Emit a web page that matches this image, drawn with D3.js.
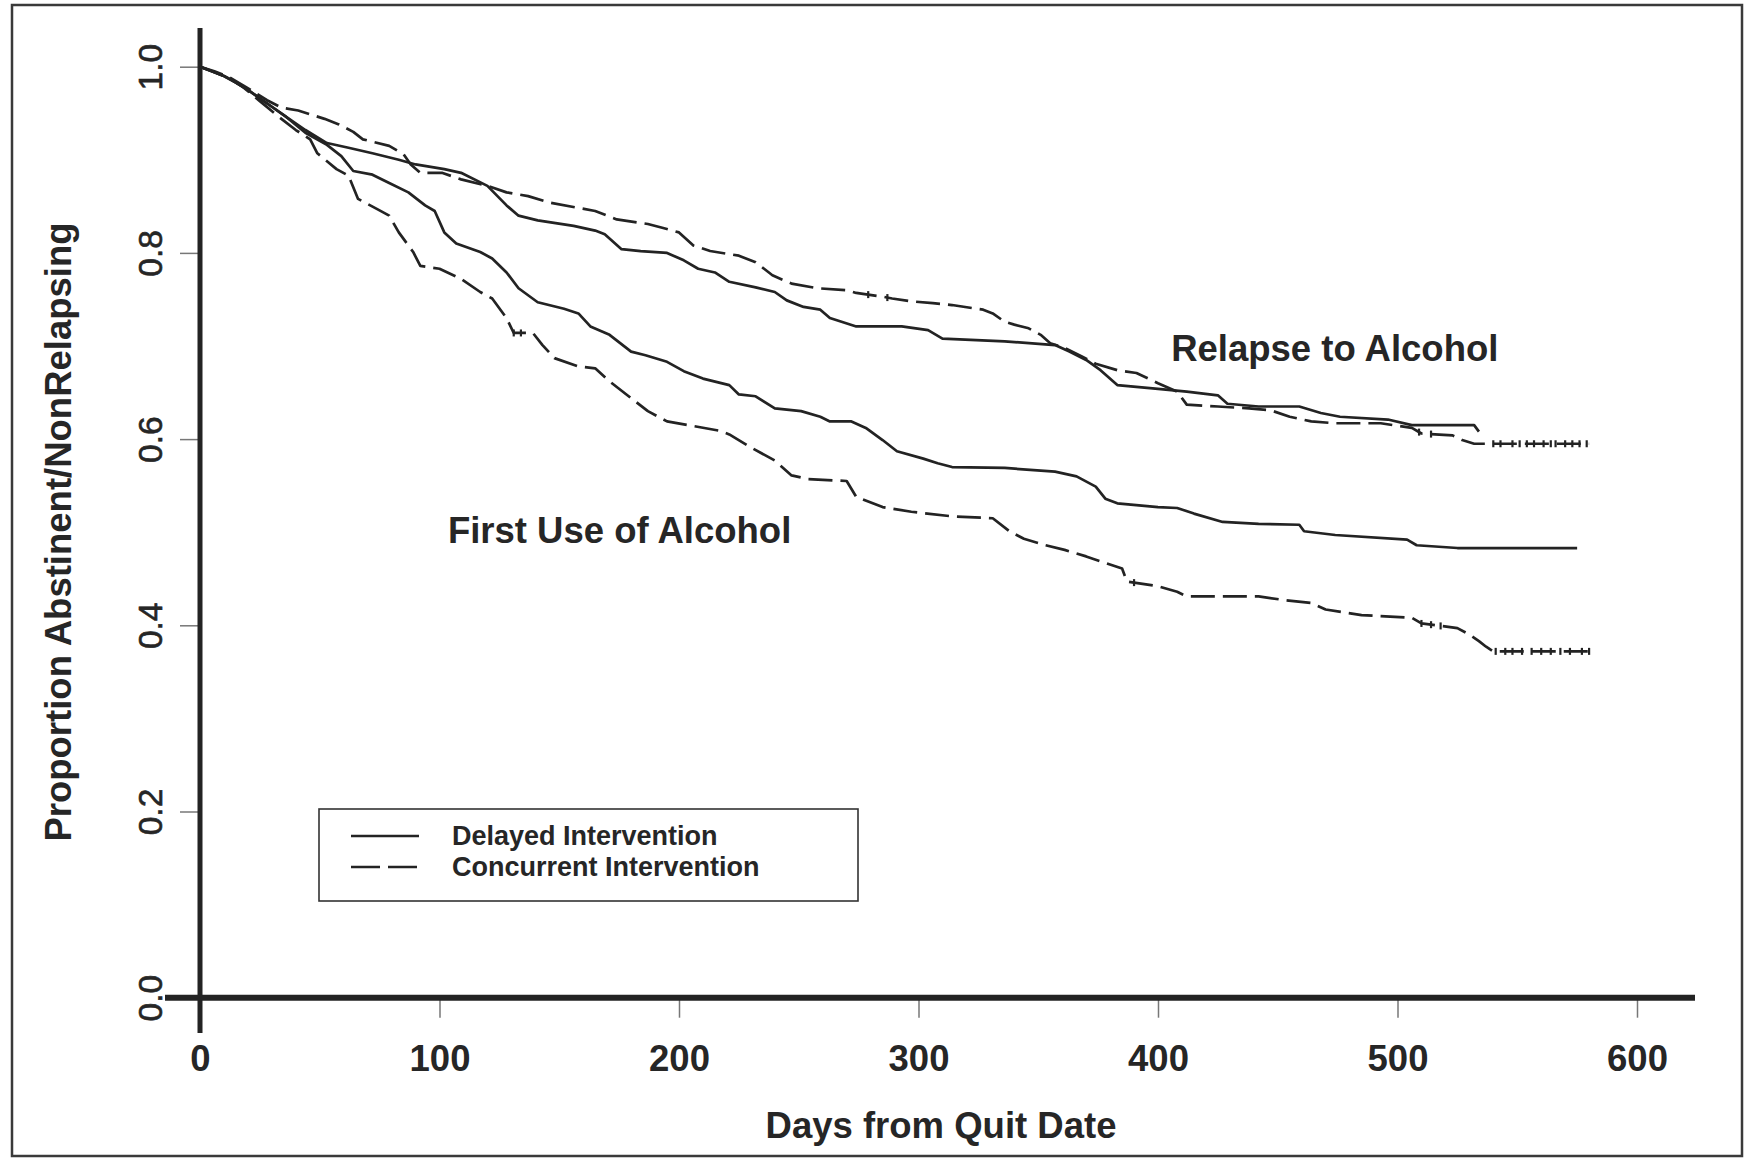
<!DOCTYPE html>
<html>
<head>
<meta charset="utf-8">
<script src="https://cdn.jsdelivr.net/npm/d3@7"></script>
<style>
  html, body { margin: 0; padding: 0; background: #fff; }
  svg { display: block; }
  text { font-family: "Liberation Sans", Arial, Helvetica, sans-serif; fill: #262626; }
</style>
</head>
<body>
<svg id="chart" width="1744" height="1159"></svg>
<script>
// ---------------- DATA ----------------
const xTicks = [0, 100, 200, 300, 400, 500, 600];
const yTicks = [0.0, 0.2, 0.4, 0.6, 0.8, 1.0];

// Relapse to Alcohol — Delayed Intervention (solid)
const relapseDelayedDays = [0, 5, 10, 15, 20, 25, 30, 36, 44, 53, 62, 72, 83, 90, 102, 109, 120, 128, 133, 141, 156, 165, 169, 176, 184, 195, 202, 208, 215, 221, 232, 240, 245, 252, 259, 263, 274, 293, 304, 310, 336, 357, 363, 370, 376, 383, 400, 412, 425, 429, 442, 459, 468, 476, 496, 506, 532, 534];
const relapseDelayedVals = [1.0, 0.995, 0.99, 0.983, 0.975, 0.966, 0.957, 0.946, 0.932, 0.918, 0.913, 0.907, 0.900, 0.895, 0.890, 0.886, 0.872, 0.851, 0.840, 0.835, 0.829, 0.824, 0.820, 0.804, 0.802, 0.800, 0.792, 0.783, 0.779, 0.769, 0.763, 0.758, 0.749, 0.742, 0.739, 0.730, 0.721, 0.721, 0.717, 0.708, 0.705, 0.701, 0.694, 0.685, 0.674, 0.658, 0.654, 0.651, 0.647, 0.638, 0.635, 0.635, 0.628, 0.624, 0.621, 0.615, 0.615, 0.608];

// Relapse to Alcohol — Concurrent Intervention (dashed)
const relapseConcDays = [0, 6, 12, 18, 23, 28, 34, 41, 47, 52, 58, 64, 68, 79, 85, 88, 92, 101, 109, 120, 128, 137, 146, 165, 174, 187, 193, 200, 206, 213, 225, 232, 239, 247, 258, 270, 274, 285, 289, 297, 306, 314, 327, 331, 336, 340, 346, 351, 355, 361, 368, 374, 383, 391, 400, 408, 412, 425, 438, 447, 455, 464, 474, 493, 506, 510, 523, 527, 532, 580];
const relapseConcVals = [1.0, 0.995, 0.989, 0.98, 0.972, 0.964, 0.956, 0.953, 0.948, 0.944, 0.938, 0.930, 0.922, 0.915, 0.906, 0.895, 0.886, 0.886, 0.879, 0.872, 0.865, 0.861, 0.854, 0.845, 0.836, 0.831, 0.827, 0.822, 0.808, 0.802, 0.797, 0.790, 0.776, 0.767, 0.762, 0.760, 0.757, 0.753, 0.751, 0.748, 0.746, 0.744, 0.739, 0.735, 0.726, 0.723, 0.719, 0.712, 0.703, 0.698, 0.689, 0.681, 0.674, 0.671, 0.660, 0.651, 0.637, 0.635, 0.633, 0.631, 0.624, 0.619, 0.617, 0.617, 0.612, 0.606, 0.604, 0.599, 0.595, 0.595];
const relapseConcCensor = [279, 287, 509, 514, 540, 543, 548, 551, 554, 557, 561, 564, 566, 570, 573, 576, 579];

// First Use of Alcohol — Delayed Intervention (solid)
const firstUseDelayedDays = [0, 5, 10, 15, 20, 25, 30, 36, 44, 53, 59, 64, 72, 79, 87, 94, 98, 102, 107, 117, 122, 128, 133, 141, 152, 158, 163, 171, 180, 186, 195, 202, 210, 221, 225, 232, 240, 251, 259, 263, 272, 278, 285, 291, 302, 308, 314, 336, 357, 366, 374, 378, 383, 400, 408, 415, 427, 442, 459, 461, 474, 504, 508, 525, 575];
const firstUseDelayedVals = [1.0, 0.995, 0.99, 0.983, 0.975, 0.966, 0.957, 0.946, 0.929, 0.916, 0.904, 0.888, 0.884, 0.875, 0.865, 0.851, 0.845, 0.822, 0.810, 0.801, 0.794, 0.779, 0.762, 0.747, 0.740, 0.735, 0.721, 0.712, 0.694, 0.690, 0.683, 0.673, 0.665, 0.658, 0.648, 0.646, 0.633, 0.630, 0.624, 0.619, 0.619, 0.612, 0.599, 0.587, 0.579, 0.574, 0.570, 0.569, 0.565, 0.560, 0.549, 0.536, 0.531, 0.527, 0.526, 0.520, 0.511, 0.509, 0.508, 0.501, 0.497, 0.492, 0.486, 0.483, 0.483];

// First Use of Alcohol — Concurrent Intervention (dashed)
const firstUseConcDays = [0, 6, 12, 18, 25, 32, 40, 46, 49, 57, 62, 66, 74, 79, 83, 89, 92, 100, 109, 117, 122, 128, 131, 139, 143, 148, 158, 165, 171, 180, 187, 195, 206, 217, 221, 230, 240, 247, 254, 270, 274, 285, 297, 314, 331, 338, 344, 353, 361, 370, 378, 385, 387, 400, 408, 412, 442, 453, 464, 470, 485, 506, 510, 525, 530, 534, 537, 540, 580];
const firstUseConcVals = [1.0, 0.994, 0.988, 0.978, 0.963, 0.948, 0.932, 0.922, 0.907, 0.890, 0.883, 0.858, 0.847, 0.840, 0.822, 0.801, 0.786, 0.783, 0.772, 0.758, 0.751, 0.730, 0.714, 0.714, 0.701, 0.687, 0.678, 0.676, 0.662, 0.644, 0.630, 0.619, 0.614, 0.609, 0.605, 0.591, 0.577, 0.561, 0.557, 0.555, 0.538, 0.527, 0.522, 0.517, 0.515, 0.501, 0.493, 0.486, 0.481, 0.474, 0.467, 0.461, 0.447, 0.442, 0.436, 0.431, 0.431, 0.427, 0.424, 0.417, 0.411, 0.408, 0.402, 0.397, 0.390, 0.383, 0.377, 0.372, 0.372];
const firstUseConcCensor = [131, 134, 390, 510, 514, 518, 541, 545, 548, 552, 556, 560, 564, 568, 572, 577, 580];

const legendLabels = ["Delayed Intervention", "Concurrent Intervention"];
const annotations = [
  { text: "Relapse to Alcohol", day: 405.5, val: 0.6835 },
  { text: "First Use of Alcohol", day: 103.5, val: 0.4886 }
];

// ---------------- DRAWING ----------------
const svg = d3.select("#chart");
const ink = "#232323";
const bigFont = "36.5px";

const x = d3.scaleLinear().domain([0, 600]).range([200, 1637]);
const y = d3.scaleLinear().domain([0, 1]).range([997.7, 66.7]);

// outer frame
svg.append("rect")
  .attr("x", 12).attr("y", 5).attr("width", 1730).attr("height", 1151)
  .attr("fill", "none").attr("stroke", "#3a3a3a").attr("stroke-width", 2.5);

// Y axis ticks + labels
const yAxis = svg.append("g").attr("transform", "translate(200,0)")
  .call(d3.axisLeft(y).tickValues(yTicks).tickSize(20).tickFormat(d3.format(".1f")));
yAxis.select(".domain").remove();
yAxis.selectAll(".tick line").attr("stroke", "#777").attr("stroke-width", 1.5);
yAxis.selectAll(".tick text")
  .attr("x", null).attr("dy", null)
  .attr("transform", "translate(-38,0) rotate(-90)")
  .attr("text-anchor", "middle")
  .style("font-family", '"Liberation Sans", Arial, sans-serif')
  .style("font-size", "33.5px").style("font-weight", "normal")
  .attr("fill", ink).attr("stroke", ink).attr("stroke-width", 0.6);

// X axis ticks + labels
const xAxis = svg.append("g").attr("transform", "translate(0,997.7)")
  .call(d3.axisBottom(x).tickValues(xTicks).tickSize(20).tickFormat(d3.format("d")));
xAxis.select(".domain").remove();
xAxis.selectAll(".tick line").attr("stroke", "#777").attr("stroke-width", 1.5);
xAxis.selectAll(".tick text")
  .attr("y", 47).attr("dy", "0.71em")
  .style("font-family", '"Liberation Sans", Arial, sans-serif')
  .style("font-size", bigFont).style("font-weight", "bold").attr("fill", ink);

// main axis lines (thick)
svg.append("line").attr("x1", 200).attr("x2", 200).attr("y1", 28).attr("y2", 1033)
  .attr("stroke", ink).attr("stroke-width", 5);
svg.append("line").attr("x1", 165).attr("x2", 1695).attr("y1", 997.7).attr("y2", 997.7)
  .attr("stroke", ink).attr("stroke-width", 6);

// curves
const line = d3.line().x(d => x(d[0])).y(d => y(d[1]));
const zip = (a, b) => a.map((d, i) => [d, b[i]]);
const curves = [
  { pts: zip(relapseDelayedDays, relapseDelayedVals), dash: null },
  { pts: zip(relapseConcDays, relapseConcVals), dash: "24,8" },
  { pts: zip(firstUseDelayedDays, firstUseDelayedVals), dash: null },
  { pts: zip(firstUseConcDays, firstUseConcVals), dash: "24,8" }
];
curves.forEach(c => {
  svg.append("path").datum(c.pts)
    .attr("d", line)
    .attr("fill", "none").attr("stroke", ink).attr("stroke-width", 2.7)
    .attr("stroke-linejoin", "round")
    .attr("stroke-dasharray", c.dash);
});

// censoring marks
function valueAt(days, vals, t) {
  let i = d3.bisectRight(days, t) - 1;
  if (i < 0) return vals[0];
  if (i >= days.length - 1) return vals[vals.length - 1];
  const f = (t - days[i]) / (days[i + 1] - days[i]);
  return vals[i] + f * (vals[i + 1] - vals[i]);
}
[[relapseConcCensor, relapseConcDays, relapseConcVals],
 [firstUseConcCensor, firstUseConcDays, firstUseConcVals]].forEach(([cs, ds, vs]) => {
  svg.append("g").selectAll("line").data(cs).join("line")
    .attr("x1", d => x(d)).attr("x2", d => x(d))
    .attr("y1", d => y(valueAt(ds, vs, d)) - 3.5)
    .attr("y2", d => y(valueAt(ds, vs, d)) + 3.5)
    .attr("stroke", ink).attr("stroke-width", 2.2);
});

// annotations
annotations.forEach(a => {
  svg.append("text").attr("x", x(a.day)).attr("y", y(a.val))
    .style("font-size", bigFont).style("font-weight", "bold").text(a.text);
});

// axis titles
svg.append("text").attr("x", 941).attr("y", 1138).attr("text-anchor", "middle")
  .style("font-size", bigFont).style("font-weight", "bold").text("Days from Quit Date");
svg.append("text").attr("transform", "translate(71,532) rotate(-90)").attr("text-anchor", "middle")
  .style("font-size", bigFont).style("font-weight", "bold").text("Proportion Abstinent/NonRelapsing");

// legend
const lg = svg.append("g");
lg.append("rect").attr("x", 319).attr("y", 809).attr("width", 539).attr("height", 92)
  .attr("fill", "#fff").attr("stroke", "#333").attr("stroke-width", 1.6);
const legendDash = [null, "29,8"];
legendLabels.forEach((lab, i) => {
  const ly = 836 + i * 31;
  lg.append("line").attr("x1", 351).attr("x2", 419).attr("y1", ly).attr("y2", ly)
    .attr("stroke", ink).attr("stroke-width", 2.4).attr("stroke-dasharray", legendDash[i]);
  lg.append("text").attr("x", 452).attr("y", ly + 9)
    .style("font-size", "27px").style("font-weight", "bold").text(lab);
});
</script>
</body>
</html>
